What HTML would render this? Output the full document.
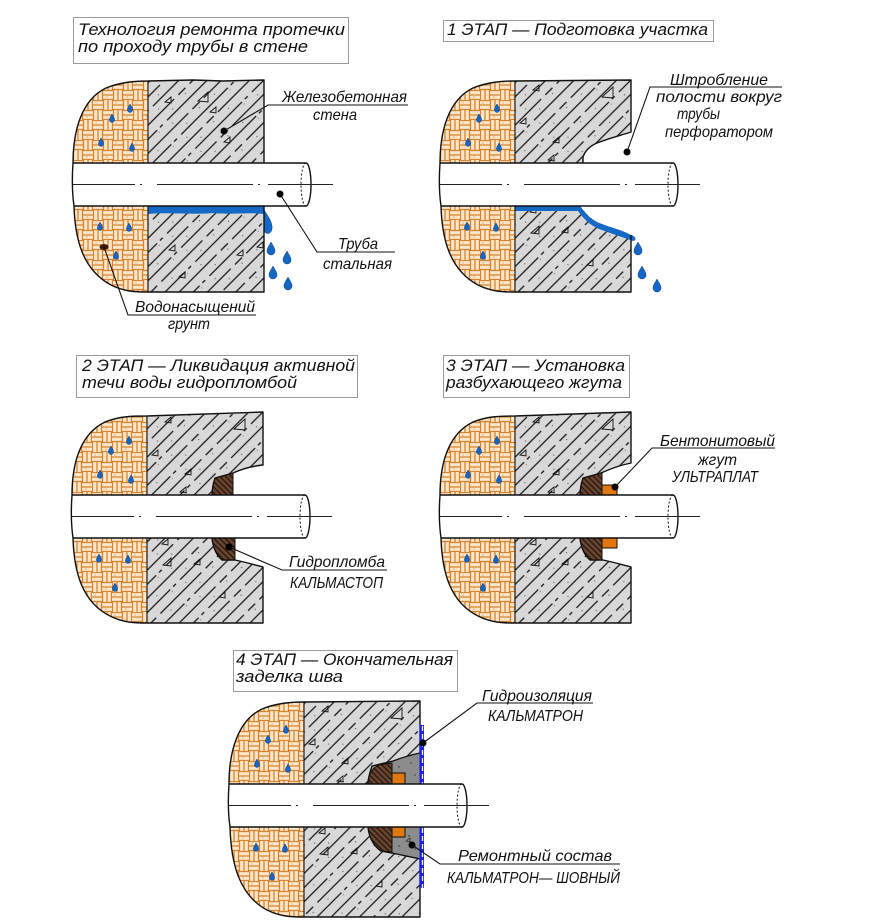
<!DOCTYPE html>
<html><head><meta charset="utf-8"><style>
html,body{margin:0;padding:0;background:#fff;}
svg{display:block;}
text{font-family:"Liberation Sans","DejaVu Sans",sans-serif;font-style:italic;fill:#111;}
.t{font-size:17px;}
.l{font-size:16px;}
.ol{fill:none;stroke:#111;stroke-width:1.4;stroke-linejoin:round;}
.ln{fill:none;stroke:#111;stroke-width:1.1;}
.box{fill:#fff;stroke:#9a9a9a;stroke-width:1;}
.tri{fill:none;stroke:#111;stroke-width:0.9;}
</style></head><body>
<svg width="877" height="924" viewBox="0 0 877 924" xmlns="http://www.w3.org/2000/svg">
<defs>
 <pattern id="conc" patternUnits="userSpaceOnUse" width="80" height="20" patternTransform="rotate(-45)">
  <rect width="80" height="20" fill="#d8d8d8"/>
  <g stroke="#151515" stroke-width="1.3">
   <line x1="0" y1="5" x2="58" y2="5"/><line x1="64" y1="5" x2="74" y2="5"/>
   <line x1="38" y1="15" x2="80" y2="15"/><line x1="0" y1="15" x2="24" y2="15"/><line x1="28" y1="15" x2="32" y2="15"/>
  </g>
  <g fill="#555"><circle cx="10" cy="10" r="0.6"/><circle cx="40" cy="1" r="0.6"/><circle cx="50" cy="11" r="0.6"/><circle cx="24" cy="18" r="0.5"/><circle cx="70" cy="9" r="0.6"/></g>
 </pattern>
 <pattern id="soil" patternUnits="userSpaceOnUse" width="20" height="20">
  <rect width="20" height="20" fill="#fbe6c9"/>
  <g stroke="#d7832f" stroke-width="1.3" fill="none">
   <path d="M0,0.5 H10 M0,5 H10 M0,9.5 H10"/>
   <path d="M10.5,0 V10 M15,0 V10 M19.5,0 V10"/>
   <path d="M0.5,10 V20 M5,10 V20 M9.5,10 V20"/>
   <path d="M10,10.5 H20 M10,15 H20 M10,19.5 H20"/>
  </g>
  <g fill="#b86a2a"><circle cx="3" cy="3" r="0.5"/><circle cx="14" cy="17" r="0.5"/></g>
 </pattern>
 <pattern id="gp" patternUnits="userSpaceOnUse" width="4" height="4" patternTransform="rotate(45)">
  <rect width="4" height="4" fill="#6a4530"/>
  <line x1="0" y1="1" x2="4" y2="1" stroke="#24150b" stroke-width="1.3"/>
 </pattern>
 <path id="sd" d="M0,-4 C1,-2 2.6,0 2.6,1.8 A2.6,2.6 0 0 1 -2.6,1.8 C-2.6,0 -1,-2 0,-4 Z" fill="#1467c6" stroke="#0b3a78" stroke-width="0.5"/>
 <path id="bd" d="M0,-6 C1.5,-3 4,0 4,3 A4,4 0 0 1 -4,3 C-4,0 -1.5,-3 0,-6 Z" fill="#1467c6" stroke="#0b3a78" stroke-width="0.5"/>
 <g id="soilDrops">
  <use href="#sd" x="57" y="28"/><use href="#sd" x="39" y="38"/><use href="#sd" x="28" y="62"/><use href="#sd" x="59" y="67"/>
  <use href="#sd" x="27" y="146"/><use href="#sd" x="56" y="147"/><use href="#sd" x="43" y="175"/>
 </g>
 <path id="tris" class="tri" d="M93,10 L99,5 L99,11 Z M162,17 L173,7 L173,18 Z M80,43 L86,38 L86,44 Z M113,62 L119,57 L119,63 Z M108,80 L114,75 L114,81 Z M90,132 L96,127 L96,133 Z M91,153 L99,146 L99,154 Z M122,152 L128,147 L128,153 Z M147,185 L153,180 L153,186 Z"/>
 <g id="pipe">
  <path d="M0,83 H233 M1,126 H233" class="ol" stroke-width="1.3"/>
  <path d="M233,83 A5,21.5 0 0 1 233,126" class="ol" stroke-width="1.2"/>
  <path d="M233,83 A5,21.5 0 0 0 233,126" fill="none" stroke="#111" stroke-width="1" stroke-dasharray="2 2"/>
  <path d="M0,104.5 H260" fill="none" stroke="#222" stroke-width="1" stroke-dasharray="62 5 2 15 96 5 2 8 65"/>
 </g>
</defs>

<rect width="877" height="924" fill="#fff"/>

<!-- ========== PANEL A ========== -->
<rect class="box" x="73.5" y="17.5" width="275" height="46"/>
<text class="t" x="78" y="35" textLength="267" lengthAdjust="spacingAndGlyphs">Технология  ремонта протечки</text>
<text class="t" x="78" y="52" textLength="230" lengthAdjust="spacingAndGlyphs">по проходу трубы в стене</text>

<g transform="translate(73,80)">
 <path d="M0,83 C0,52 8,20 33,8 C48,2 62,1 75,1 L75,83 Z" fill="url(#soil)"/>
 <path d="M1,126 C2,160 10,190 38,205 C52,212 64,212 75,212 L75,126 Z" fill="url(#soil)"/>
 <path d="M75,1 L120,0 L150,1 L191,0 L191,83 L75,83 Z" fill="url(#conc)"/>
 <path d="M75,126 L191,126 L191,212 L75,212 Z" fill="url(#conc)"/>
 <path class="tri" d="M92,22 L98,17 L98,23 Z M125,21 L135,12 L135,22 Z M137,32 L143,27 L143,33 Z M151,62 L157,57 L157,63 Z M96,170 L102,165 L102,171 Z M164,175 L170,170 L170,176 Z M106,197 L112,192 L112,198 Z M184,167 L190,162 L190,168 Z"/>
 <use href="#soilDrops"/>
 <ellipse cx="31" cy="167" rx="4.5" ry="3" fill="#3a1a08"/>
 <path d="M75,126 L191,126 L191,134 C175,132 160,135 140,133 C120,135 100,132 75,134 Z" fill="#1469c7"/>
 <path d="M191,130 C195,136 200,143 199,149 C198,155 191,155 191,149 Z" fill="#1469c7" stroke="#0b3a78" stroke-width="0.5"/>
 <use href="#bd" x="198" y="168"/><use href="#bd" x="214" y="177"/><use href="#bd" x="200" y="192"/><use href="#bd" x="215" y="203"/>
 <rect x="0.5" y="83" width="233" height="43" fill="#fff"/>
 <path class="ol" d="M191,83 L191,0 L150,1 L120,0 L75,1 C62,1 48,2 33,8 C8,20 0,52 0,83 C-1,97 -1,112 1,126 C2,160 10,190 38,205 C52,212 64,212 75,212 L191,212 L191,126"/>
 <path class="ln" d="M75,1 V83 M75,126 V212"/>
 <use href="#pipe"/>
</g>
<circle cx="224" cy="131" r="3.5" fill="#000"/>
<path class="ln" d="M224,131 L268,105 H408"/>
<text class="l" x="282" y="102" textLength="125" lengthAdjust="spacingAndGlyphs">Железобетонная</text>
<text class="l" x="313" y="120" textLength="44" lengthAdjust="spacingAndGlyphs">стена</text>
<circle cx="280" cy="194" r="3.5" fill="#000"/>
<path class="ln" d="M280,194 L317,252 H395"/>
<text class="l" x="338" y="249" textLength="40" lengthAdjust="spacingAndGlyphs">Труба</text>
<text class="l" x="323" y="269" textLength="69" lengthAdjust="spacingAndGlyphs">стальная</text>
<path class="ln" d="M104,247 L128,315 H256"/>
<text class="l" x="135" y="312" textLength="120" lengthAdjust="spacingAndGlyphs">Водонасыщений</text>
<text class="l" x="168" y="329" textLength="42" lengthAdjust="spacingAndGlyphs">грунт</text>

<!-- ========== PANEL B ========== -->
<rect class="box" x="443.5" y="20.5" width="270" height="21"/>
<text class="t" x="447" y="35" textLength="261" lengthAdjust="spacingAndGlyphs">1 ЭТАП — Подготовка участка</text>

<g transform="translate(440,80)">
 <path d="M0,83 C0,52 8,20 33,8 C48,2 62,1 75,1 L75,83 Z" fill="url(#soil)"/>
 <path d="M1,126 C2,160 10,190 38,205 C52,212 64,212 75,212 L75,126 Z" fill="url(#soil)"/>
 <path d="M75,1 L191,0 L191,52 C182,55 170,58 157,63 C150,66 145,71 143,77 L143,83 L75,83 Z" fill="url(#conc)"/>
 <path d="M75,126 L140,126 C145,132 150,140 162,144 C172,148 182,150 191,155 L191,212 L75,212 Z" fill="url(#conc)"/>
 <use href="#tris"/>
 <use href="#soilDrops"/>
 <path d="M75,126 L140,126 C145,132 150,140 162,144 C172,148 182,150 191,155 C196,156 197,161 193,161 C185,158 175,155 162,150 C150,146 143,138 138,131 L75,131 Z" fill="#1469c7"/>
 <use href="#bd" x="198" y="168"/>
 <use href="#bd" x="202" y="192"/><use href="#bd" x="217" y="205"/>
 <rect x="0.5" y="83" width="233" height="43" fill="#fff"/>
 <path class="ol" d="M143,83 L143,77 C145,71 150,66 157,63 C170,58 182,55 191,52 L191,0 L75,1 C62,1 48,2 33,8 C8,20 0,52 0,83 C-1,97 -1,112 1,126 C2,160 10,190 38,205 C52,212 64,212 75,212 L191,212 L191,155"/>
 <path class="ln" d="M75,1 V83 M75,126 V212"/>
 <use href="#pipe"/>
</g>
<circle cx="627" cy="152" r="3.5" fill="#000"/>
<path class="ln" d="M627,152 L650,87 H782"/>
<text class="l" x="670" y="85" textLength="98" lengthAdjust="spacingAndGlyphs">Штробление</text>
<text class="l" x="656" y="102" textLength="126" lengthAdjust="spacingAndGlyphs">полости вокруг</text>
<text class="l" x="677" y="119" textLength="43" lengthAdjust="spacingAndGlyphs">трубы</text>
<text class="l" x="665" y="137" textLength="108" lengthAdjust="spacingAndGlyphs">перфоратором</text>

<!-- ========== PANEL C ========== -->
<rect class="box" x="76.5" y="355.5" width="281" height="42"/>
<text class="t" x="82" y="371" textLength="273" lengthAdjust="spacingAndGlyphs">2 ЭТАП — Ликвидация активной</text>
<text class="t" x="82" y="388" textLength="215" lengthAdjust="spacingAndGlyphs">течи воды гидропломбой</text>

<g transform="translate(72,412)">
 <path d="M0,83 C0,52 8,22 33,10 C48,4 62,4 75,4 L75,83 Z" fill="url(#soil)"/>
 <path d="M1,126 C2,160 10,190 38,204 C52,211 64,211 75,211 L75,126 Z" fill="url(#soil)"/>
 <path d="M75,4 L191,0 L191,53 C181,54 170,57 161,61 L143,66 C141,72 140,77 140,83 L75,83 Z" fill="url(#conc)"/>
 <path d="M75,126 L140,126 C141,136 145,144 150,148 L163,148 C173,150 183,153 191,155 L191,211 L75,211 Z" fill="url(#conc)"/>
 <use href="#tris"/>
 <use href="#soilDrops"/>
 <path d="M161,61 L161,83 L140,83 C140,77 141,72 143,66 Z" fill="url(#gp)" stroke="#111" stroke-width="1"/>
 <path d="M140,126 L163,126 L163,148 L150,148 C145,144 141,136 140,126 Z" fill="url(#gp)" stroke="#111" stroke-width="1"/>
 <rect x="0.5" y="83" width="233" height="43" fill="#fff"/>
 <path class="ol" d="M140,83 C140,77 141,72 143,66 L161,61 C170,57 181,54 191,53 L191,0 L75,4 C62,4 48,4 33,10 C8,22 0,52 0,83 C-1,97 -1,112 1,126 C2,160 10,190 38,204 C52,211 64,211 75,211 L191,211 L191,155 C183,153 173,150 163,148 L150,148 C145,144 141,136 140,126"/>
 <path class="ln" d="M75,4 V83 M75,126 V211"/>
 <use href="#pipe"/>
</g>
<circle cx="229" cy="547" r="3.5" fill="#000"/>
<path class="ln" d="M229,547 L282,570 H387"/>
<text class="l" x="289" y="567" textLength="96" lengthAdjust="spacingAndGlyphs">Гидропломба</text>
<text class="l" x="290" y="588" textLength="93" lengthAdjust="spacingAndGlyphs">КАЛЬМАСТОП</text>

<!-- ========== PANEL D ========== -->
<rect class="box" x="443.5" y="355.5" width="186" height="42"/>
<text class="t" x="446" y="371" textLength="179" lengthAdjust="spacingAndGlyphs">3 ЭТАП — Установка</text>
<text class="t" x="446" y="388" textLength="176" lengthAdjust="spacingAndGlyphs">разбухающего жгута</text>

<g transform="translate(440,412)">
 <path d="M0,83 C0,52 8,22 33,10 C48,4 62,4 75,4 L75,83 Z" fill="url(#soil)"/>
 <path d="M1,126 C2,160 10,190 38,204 C52,211 64,211 75,211 L75,126 Z" fill="url(#soil)"/>
 <path d="M75,4 L191,0 L191,51 C181,53 170,57 161,61 L143,66 C141,72 140,77 140,83 L75,83 Z" fill="url(#conc)"/>
 <path d="M75,126 L140,126 C141,136 145,144 150,148 L163,148 C173,150 183,153 191,155 L191,211 L75,211 Z" fill="url(#conc)"/>
 <use href="#tris"/>
 <use href="#soilDrops"/>
 <path d="M162,61 L162,83 L140,83 C140,77 141,72 143,66 Z" fill="url(#gp)" stroke="#111" stroke-width="1"/>
 <path d="M140,126 L162,126 L162,148 L150,148 C145,144 141,136 140,126 Z" fill="url(#gp)" stroke="#111" stroke-width="1"/>
 <path d="M162,73 H177 V83 H162 Z M162,126 H177 V136 H162 Z" fill="#e0780f" stroke="#111" stroke-width="1"/>
 <rect x="0.5" y="83" width="233" height="43" fill="#fff"/>
 <path class="ol" d="M140,83 C140,77 141,72 143,66 L161,61 C170,57 181,53 191,51 L191,0 L75,4 C62,4 48,4 33,10 C8,22 0,52 0,83 C-1,97 -1,112 1,126 C2,160 10,190 38,204 C52,211 64,211 75,211 L191,211 L191,155 C183,153 173,150 163,148 L150,148 C145,144 141,136 140,126"/>
 <path class="ln" d="M75,4 V83 M75,126 V211"/>
 <use href="#pipe"/>
</g>
<circle cx="615" cy="487" r="3.5" fill="#000"/>
<path class="ln" d="M615,487 L652,448 H775"/>
<text class="l" x="660" y="446" textLength="115" lengthAdjust="spacingAndGlyphs">Бентонитовый</text>
<text class="l" x="698" y="465" textLength="39" lengthAdjust="spacingAndGlyphs">жгут</text>
<text class="l" x="672" y="482" textLength="86" lengthAdjust="spacingAndGlyphs">УЛЬТРАПЛАТ</text>

<!-- ========== PANEL E ========== -->
<rect class="box" x="233.5" y="650.5" width="224" height="41"/>
<text class="t" x="236" y="665" textLength="217" lengthAdjust="spacingAndGlyphs">4 ЭТАП — Окончательная</text>
<text class="t" x="236" y="682" textLength="107" lengthAdjust="spacingAndGlyphs">заделка шва</text>

<g transform="translate(229,701)">
 <path d="M0,83 C0,52 8,20 33,8 C48,2 62,1 75,1 L75,83 Z" fill="url(#soil)"/>
 <path d="M1,126 C2,162 10,194 38,209 C52,216 64,216 75,216 L75,126 Z" fill="url(#soil)"/>
 <path d="M75,1 L191,0 L191,52 C181,54 172,57 164,60 L143,65 C141,71 139,77 139,83 L75,83 Z" fill="url(#conc)"/>
 <path d="M75,126 L139,126 C140,138 146,146 152,150 L163,152 C172,154 183,156 191,158 L191,216 L75,216 Z" fill="url(#conc)"/>
 <use href="#tris"/>
 <use href="#soilDrops"/>
 <path d="M143,65 L164,60 C172,57 181,54 191,52 L191,83 L139,83 C139,77 141,71 143,65 Z" fill="#8c8c8c"/>
 <path d="M139,126 L191,126 L191,158 C183,156 172,154 163,152 L152,150 C146,146 140,138 139,126 Z" fill="#8c8c8c"/>
 <g fill="#333"><circle cx="170" cy="66" r="0.7"/><circle cx="182" cy="62" r="0.7"/><circle cx="186" cy="74" r="0.7"/><circle cx="180" cy="135" r="0.8"/><circle cx="170" cy="145" r="0.7"/><circle cx="186" cy="148" r="0.7"/><path d="M177,140 L181,137 L181,141 Z" fill="none" stroke="#222" stroke-width="0.7"/></g>
 <path d="M139,83 C139,75 142,68 150,64 L163,62 L163,83 Z" fill="url(#gp)" stroke="#111" stroke-width="1"/>
 <path d="M139,126 L163,126 L163,151 L152,150 C146,146 140,138 139,126 Z" fill="url(#gp)" stroke="#111" stroke-width="1"/>
 <path d="M163,72 H176 V83 H163 Z M163,126 H176 V136 H163 Z" fill="#e0780f" stroke="#111" stroke-width="1"/>
 <rect x="0.5" y="83" width="233" height="43" fill="#fff"/>
 <path class="ol" d="M139,83 C139,77 141,71 143,65 L164,60 C172,57 181,54 191,52 L191,0 L75,1 C62,1 48,2 33,8 C8,20 0,52 0,83 C-1,97 -1,112 1,126 C2,162 10,194 38,209 C52,216 64,216 75,216 L191,216 L191,158 C183,156 172,154 163,152 L152,150 C146,146 140,138 139,126"/>
 <path class="ln" d="M75,1 V83 M75,126 V216"/>
 <rect x="190.5" y="24" width="4.5" height="59" fill="#1c1ff0"/>
 <rect x="190.5" y="126" width="4.5" height="61" fill="#1c1ff0"/>
 <path d="M193.5,25 V83 M193.5,127 V187" stroke="#fff" stroke-width="1.3" stroke-dasharray="5 3"/>
 <use href="#pipe"/>
</g>
<circle cx="423" cy="743" r="3.5" fill="#000"/>
<path class="ln" d="M423,743 L477,703 H593"/>
<text class="l" x="482" y="701" textLength="110" lengthAdjust="spacingAndGlyphs">Гидроизоляция</text>
<text class="l" x="488" y="721" textLength="95" lengthAdjust="spacingAndGlyphs">КАЛЬМАТРОН</text>
<circle cx="412" cy="845" r="3.5" fill="#000"/>
<path class="ln" d="M412,845 L440,864 H620"/>
<text class="l" x="458" y="861" textLength="154" lengthAdjust="spacingAndGlyphs">Ремонтный  состав</text>
<text class="l" x="447" y="883" textLength="173" lengthAdjust="spacingAndGlyphs">КАЛЬМАТРОН— ШОВНЫЙ</text>
</svg>
</body></html>
